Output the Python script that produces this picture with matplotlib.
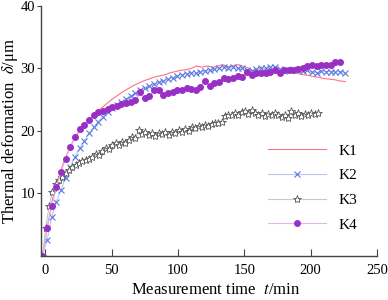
import matplotlib.pyplot as plt
import numpy as np

plt.rcParams['font.family'] = ['Liberation Serif', 'DejaVu Serif']
plt.rcParams['mathtext.fontset'] = 'stix'

# measured deformation (um), sampled on a regular time grid starting at t = -2 min
k1_step = 4.0
k1 = [0, 5, 9.5, 12.5, 15, 17, 18.8, 20, 21, 22, 22.8, 23.6, 24.3, 25, 25.6,
      26.2, 26.7, 27.2, 27.6, 28, 28.3, 28.6, 28.8, 29, 29.3, 29.5, 29.7, 29.8,
      30, 30.4, 30.2, 30.4, 30.2, 30.4, 30.6, 30.3, 30.5, 30.6, 30.3, 30, 29.5,
      30.2, 29.8, 29.9, 29.6, 29.7, 29.4, 29.5, 29.2, 29.0, 28.9, 28.7, 28.6,
      28.4, 28.3, 28.2, 28.0, 27.9]

k2_step = 3.5
k2 = [0, 2.5, 6.2, 8.7, 10.6, 12.5, 14.2, 15.8, 17.2, 18.4, 19.6, 20.6, 21.5,
      22.3, 23, 23.6, 24.1, 24.6, 25.1, 25.6, 26, 26.5, 26.8, 27.2, 27.5, 27.8,
      28, 28.3, 28.5, 28.8, 29, 29.1, 29.3, 29.2, 29.4, 29.6, 29.7, 29.9, 30,
      30.3, 30.1, 30.2, 30, 30, 29.8, 29.6, 29.9, 30, 30.1, 30.2, 30.3, 29.9,
      29.6, 29.7, 29.9, 29.8, 29.6, 29.7, 29.4, 29.3, 29.6, 29.5, 29.5, 29.4,
      29.5, 29.3]

k3_step = 2.5
k3 = [0, 4.5, 8, 10.2, 11.5, 12.2, 12.7, 13.2, 13.8, 14.2, 14.6, 14.8, 15.2,
      15.4, 15.5, 15.9, 16.3, 16.2, 16.8, 17.3, 17.1, 17.8, 18.0, 17.7, 18.3,
      18.1, 18.6, 19.0, 18.8, 20.2, 19.5, 19.8, 19.3, 19.6, 19.2, 19.7, 19.5,
      19.9, 19.4, 19.8, 19.6, 20.1, 19.8, 20.3, 20.0, 20.6, 20.4, 20.8, 20.6,
      21.0, 20.8, 21.1, 21.3, 21.2, 21.5, 22.4, 22.6, 22.5, 22.8, 22.6, 23.0,
      23.2, 22.7, 23.3, 22.9, 22.5, 22.8, 22.4, 22.7, 22.5, 22.9, 22.6, 22.2,
      22.5, 22.0, 23.2, 22.6, 22.9, 22.4, 22.7, 22.5, 22.9, 22.7, 22.8]

k4_step = 3.5
k4 = [0, 4.5, 8, 11, 13.5, 15.5, 17.5, 19, 20.3, 21, 21.8, 22.5, 23, 23.2,
      23.5, 23.8, 24, 24.3, 24.5, 24.7, 24.9, 26.2, 25.2, 25.6, 26.5, 26.5,
      25.8, 26, 26.3, 26.6, 26.6, 26.9, 26.7, 26.6, 27, 28, 27.2, 27.6, 27.8,
      28.4, 28.3, 28.5, 28.8, 28.7, 29.5, 29, 29.2, 29.2, 29.3, 29.4, 29.8,
      29.2, 29.7, 29.8, 29.8, 29.9, 30.1, 30.4, 30.5, 30.4, 30.5, 30.6, 30.5,
      31.1, 31]

labels = ['K1', 'K2', 'K3', 'K4']


def times(vals, step):
    return -2 + step * np.arange(len(vals))


fig = plt.figure(figsize=(3.88, 3.0), dpi=100)
ax = fig.add_axes([0.106, 0.147, 0.866, 0.833])

ax.plot(times(k1, k1_step), k1, color='#ff7080', lw=0.8, label=labels[0])
ax.plot(times(k2, k2_step), k2, color='#b8c8f4', lw=0.8, marker='x', ms=5,
        mec='#5a78e0', mew=0.8, label=labels[1])
ax.plot(times(k3, k3_step), k3, color='#c8c8c8', lw=0.8, marker='*', ms=6,
        mfc='white', mec='#555555', mew=0.6, label=labels[2])
ax.plot(times(k4, k4_step), k4, color='#e0b8ee', lw=0.8, marker='o', ms=4,
        mfc='#9a2fc6', mec='#9a2fc6', label=labels[3])

ax.set_xlim(-3, 250)
ax.set_ylim(0, 40)
ax.set_xticks([0, 50, 100, 150, 200, 250])
ax.set_yticks([10, 20, 30, 40])

for s in ['top', 'right']:
    ax.spines[s].set_visible(False)
for s in ['left', 'bottom']:
    ax.spines[s].set_color('#444444')
    ax.spines[s].set_linewidth(1.0)

ax.tick_params(axis='x', direction='in', length=5, color='#444444', labelsize=10.5, pad=6)
ax.tick_params(axis='y', direction='out', length=3, color='#444444', labelsize=10.5, pad=1.5)

ax.set_xlabel(r'Measurement time  $\mathit{t}$/min', fontsize=12)
ax.set_ylabel(r'Thermal deformation  $\mathit{\delta}$/μm', fontsize=12)
ax.xaxis.set_label_coords(0.52, -0.135)
ax.yaxis.set_label_coords(-0.092, 0.5)
ax.xaxis.label.set_va('center')
ax.yaxis.label.set_va('center')

ax.legend(loc='upper left', bbox_to_anchor=(268 / 388, 1 - 144 / 300),
          bbox_transform=fig.transFigure, frameon=False, borderpad=0,
          borderaxespad=0, fontsize=11, handlelength=3.8, labelspacing=0.72,
          handletextpad=0.8)

fig.savefig('out.png', dpi=100)
